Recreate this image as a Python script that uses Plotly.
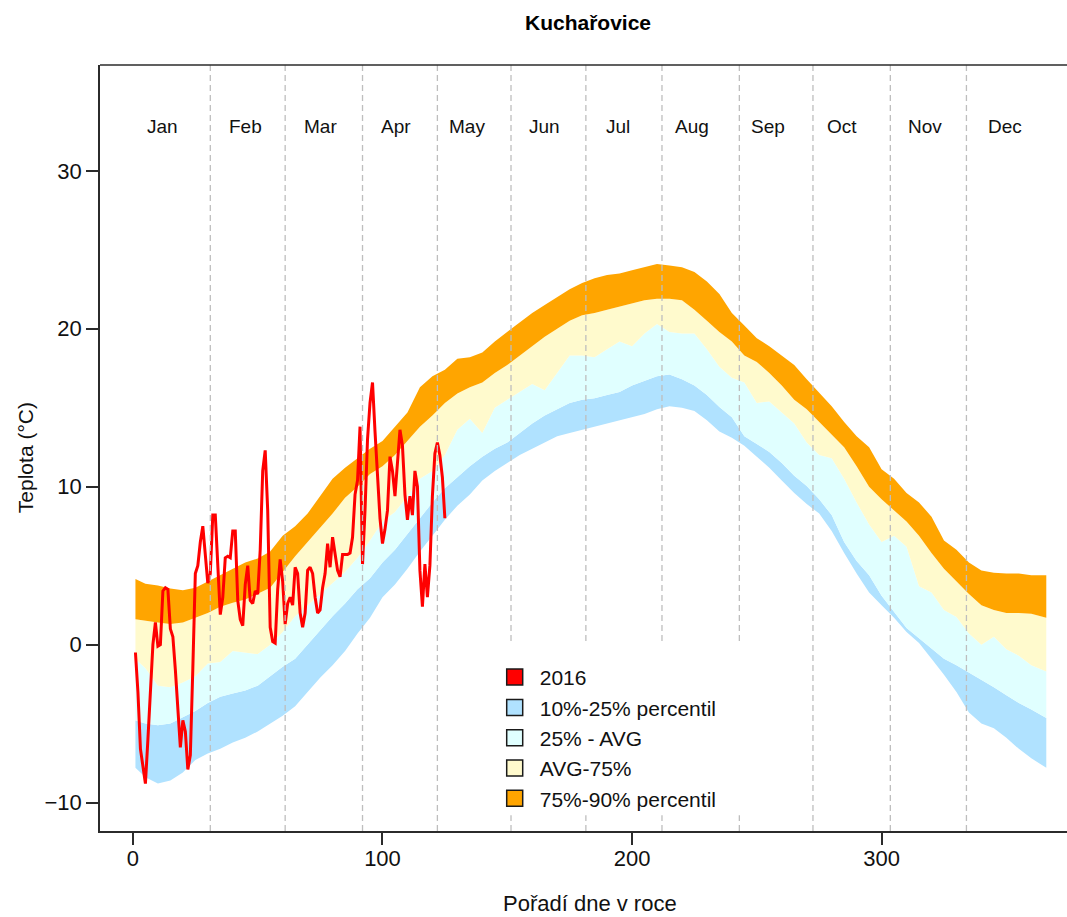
import plotly.graph_objects as go

# ---------------- data ----------------
band_days = [1, 5, 10, 15, 20, 25, 30, 35, 40, 45, 50, 55, 60, 65, 70, 75, 80, 85, 90, 95,
             100, 105, 110, 115, 120, 125, 130, 135, 140, 145, 150, 155, 160, 165, 170, 175,
             180, 185, 190, 195, 200, 205, 210, 215, 220, 225, 230, 235, 240, 245, 250, 255,
             260, 265, 270, 275, 280, 285, 290, 295, 300, 305, 310, 315, 320, 325, 330, 335,
             340, 345, 350, 355, 360, 366]

p10 = [-7.8, -8.4, -8.8, -8.6, -8.1, -7.3, -6.9, -6.6, -6.2, -5.9, -5.5, -5.0, -4.5, -3.9,
       -3.0, -2.1, -1.3, -0.4, 0.7, 1.7, 3.0, 3.8, 4.8, 5.9, 6.9, 7.9, 8.8, 9.5, 10.4, 11.0,
       11.5, 12.0, 12.4, 12.8, 13.2, 13.4, 13.6, 13.8, 14.0, 14.2, 14.4, 14.6, 14.9, 15.1,
       15.0, 14.8, 14.2, 13.5, 13.1, 12.6, 11.9, 11.2, 10.4, 9.6, 8.9, 8.3, 7.2, 5.8, 4.5,
       3.3, 2.5, 1.7, 0.8, 0.1, -0.9, -1.9, -3.0, -4.3, -5.0, -5.3, -5.9, -6.6, -7.2, -7.8]

p25 = [-4.8, -5.0, -5.1, -5.0, -4.6, -4.2, -3.7, -3.3, -3.1, -2.9, -2.6, -2.0, -1.4, -0.9,
       0.0, 0.9, 1.8, 2.6, 3.5, 4.2, 5.2, 6.0, 7.0, 8.0, 9.0, 9.9, 10.6, 11.3, 11.9, 12.4,
       12.8, 13.4, 14.0, 14.5, 14.9, 15.3, 15.5, 15.6, 15.8, 16.0, 16.4, 16.7, 17.0, 17.1,
       16.8, 16.4, 15.8, 15.05, 14.4, 13.2, 12.7, 12.2, 11.5, 10.7, 10.05, 9.2, 8.2, 6.5,
       5.3, 4.4, 3.1, 2.1, 1.05, 0.4, -0.25, -0.9, -1.3, -1.75, -2.2, -2.7, -3.2, -3.7,
       -4.1, -4.65]

avg = [-0.9, -1.5, -2.6, -2.7, -2.4, -2.0, -1.2, -1.1, -0.4, -0.5, -0.6, 0.0, 0.8, 1.8,
       2.5, 3.2, 3.9, 4.6, 5.5, 6.6, 7.8, 8.4, 9.4, 10.5, 11.0, 12.0, 13.6, 14.3, 13.4, 15.0,
       15.5, 16.0, 16.5, 16.1, 17.2, 18.3, 18.3, 18.2, 18.7, 19.2, 18.9, 19.7, 20.3, 19.8,
       19.7, 19.7, 18.7, 17.6, 16.9, 16.6, 15.3, 15.4, 14.7, 14.0, 12.8, 12.0, 11.8, 10.5,
       9.0, 7.6, 6.5, 6.9, 6.2, 3.7, 3.3, 2.2, 1.75, 0.7, 0.0, 0.5, -0.3, -0.7, -1.3, -1.7]

p75 = [1.6, 1.5, 1.4, 1.3, 1.4, 1.7, 2.0, 2.4, 2.65, 2.85, 3.25, 3.6, 4.6, 5.6, 6.5, 7.4,
       8.3, 9.3, 10.0, 10.8, 11.3, 12.0, 12.9, 13.8, 14.5, 15.3, 15.9, 16.3, 16.6, 17.2,
       17.7, 18.3, 18.9, 19.5, 20.0, 20.5, 20.85, 21.0, 21.2, 21.4, 21.6, 21.8, 21.9, 21.9,
       21.8, 21.2, 20.5, 19.8, 19.2, 18.3, 17.9, 17.2, 16.4, 15.5, 14.9, 14.1, 13.3, 12.5,
       11.3, 10.0, 9.2, 8.5, 7.8, 6.9, 5.8, 4.8, 4.0, 3.2, 2.5, 2.2, 2.0, 2.0, 1.95, 1.7]

p90 = [4.15, 3.85, 3.75, 3.55, 3.45, 3.6, 4.0, 4.4, 4.8, 5.2, 5.45, 5.9, 6.9, 7.5, 8.3,
       9.4, 10.5, 11.2, 11.8, 12.4, 12.9, 13.8, 14.7, 16.3, 17.0, 17.4, 18.1, 18.2, 18.5,
       19.2, 19.8, 20.4, 21.0, 21.5, 22.0, 22.5, 22.9, 23.2, 23.4, 23.5, 23.7, 23.9, 24.1,
       24.0, 23.9, 23.6, 23.0, 22.2, 21.0, 20.2, 19.4, 18.9, 18.3, 17.7, 16.8, 15.95, 15.1,
       14.1, 13.2, 12.5, 11.1, 10.5, 9.6, 9.0, 8.1, 6.6, 6.0, 5.2, 4.7, 4.55, 4.5, 4.5, 4.4,
       4.4]

t2016 = [-0.5, -3.0, -6.6, -7.8, -8.8, -6.0, -2.5, 0.0, 1.4, -0.1,
         0.0, 3.4, 3.6, 3.5, 1.0, 0.5, -1.6, -4.0, -6.5, -4.8,
         -5.5, -7.9, -7.0, -1.5, 4.5, 5.0, 6.5, 7.5, 5.5, 3.9,
         4.5, 8.2, 8.2, 4.7, 1.9, 3.0, 5.5, 5.6, 5.5, 7.2,
         7.2, 2.8, 1.6, 1.2, 3.8, 5.0, 2.8, 2.6, 3.4, 3.2,
         6.0, 11.0, 12.3, 8.5, 1.1, 0.2, 0.1, 3.5, 5.4, 4.0,
         1.3, 2.6, 3.0, 2.5, 4.9, 4.5, 2.0, 1.1, 2.0, 4.7,
         4.9, 4.5, 3.0, 2.0, 2.2, 3.6, 4.5, 6.4, 4.9, 6.8,
         5.6, 4.7, 4.3, 5.7, 5.7, 5.7, 5.8, 6.8, 9.5, 10.4,
         13.8, 5.1, 8.5, 13.0, 15.3, 16.6, 13.5, 10.6, 8.0, 6.4,
         7.3, 8.5, 11.9, 11.0, 9.4, 11.5, 13.6, 12.6, 9.5, 7.9,
         9.4, 8.2, 11.0, 10.0, 4.7, 2.4, 5.1, 3.0, 5.0, 9.4,
         12.1, 12.8, 12.0, 10.6, 8.0]
t2016_days = list(range(1, len(t2016) + 1))

month_names = ["Jan", "Feb", "Mar", "Apr", "May", "Jun", "Jul", "Aug", "Sep", "Oct", "Nov", "Dec"]
month_label_days = [12, 45, 75, 105.5, 134, 165, 194.5, 224, 254.5, 284, 317.5, 349.5]
month_start_days = [31, 61, 92, 122, 151.5, 181.5, 212, 243, 272.5, 303.5, 334]

legend_names = ["2016", "10%-25% percentil", "25% - AVG", "AVG-75%", "75%-90% percentil"]
x_ticks = [0, 100, 200, 300]
y_ticks = [-10, 0, 10, 20, 30]

# ---------------- style ----------------
FONT = "Liberation Sans, Arial, sans-serif"
C_RED = "#FF0000"
C_B = "#B0E2FF"
C_C = "#E0FFFF"
C_Y = "#FFFACD"
C_O = "#FFA500"
AX = "#2b2b2b"

fig = go.Figure()

bands = [(p10, None, None), (p25, "tonexty", C_B), (avg, "tonexty", C_C),
         (p75, "tonexty", C_Y), (p90, "tonexty", C_O)]
for vals, fill, fc in bands:
    kw = dict(x=band_days, y=vals, mode="lines", line=dict(width=0),
              showlegend=False, hoverinfo="skip")
    if fill:
        kw.update(fill=fill, fillcolor=fc)
    fig.add_trace(go.Scatter(**kw))

fig.add_trace(go.Scatter(x=t2016_days, y=t2016, mode="lines",
                         line=dict(color=C_RED, width=3), showlegend=False,
                         hoverinfo="skip"))

for name, col in zip(legend_names, [C_RED, C_B, C_C, C_Y, C_O]):
    fig.add_trace(go.Scatter(x=[None], y=[None], mode="markers", name=name,
                             marker=dict(symbol="square", size=17, color=col,
                                         line=dict(color="#1a1a1a", width=1.5))))

shapes = []
for d in month_start_days:
    shapes.append(dict(type="line", xref="x", yref="paper", x0=d, x1=d, y0=0, y1=1,
                       line=dict(color="#BEBEBE", width=1.3, dash="6px,4px"), layer="above"))
# white legend background (covers the dashed lines as in the original)
shapes.append(dict(type="rect", xref="x", yref="y", x0=145, x1=246, y0=-10.8, y1=0.15,
                   fillcolor="white", line=dict(width=0), layer="above"))
# top border of the plot box
shapes.append(dict(type="line", xref="paper", yref="paper", x0=0, x1=1, y0=1, y1=1,
                   line=dict(color=AX, width=1.5)))

annotations = []
for nm, d in zip(month_names, month_label_days):
    annotations.append(dict(x=d, y=32.8, xref="x", yref="y", text=nm, showarrow=False,
                            font=dict(family=FONT, size=19, color="#111")))
annotations.append(dict(x=182.4, y=1.056, xref="x", yref="paper", text="<b>Kuchařovice</b>",
                        showarrow=False, font=dict(family=FONT, size=21, color="#000"),
                        yanchor="middle"))
annotations.append(dict(x=183.2, y=-0.094, xref="x", yref="paper", text="Pořadí dne v roce",
                        showarrow=False, font=dict(family=FONT, size=22, color="#111"),
                        yanchor="middle"))
annotations.append(dict(x=-0.0776, y=0.488, xref="paper", yref="paper", text="Teplota (°C)",
                        textangle=-90, showarrow=False,
                        font=dict(family=FONT, size=21, color="#111"),
                        xanchor="center", yanchor="middle"))

fig.update_layout(
    width=1067, height=917,
    margin=dict(l=100, r=0, t=65, b=86, autoexpand=False),
    paper_bgcolor="white", plot_bgcolor="white",
    font=dict(family=FONT, color="#111"),
    shapes=shapes, annotations=annotations,
    legend=dict(x=0.403, y=0.2272, xanchor="left", yanchor="top", traceorder="normal",
                bgcolor="rgba(0,0,0,0)", font=dict(family=FONT, size=21, color="#111"),
                tracegroupgap=0, itemwidth=40),
    xaxis=dict(range=[-13.2, 374.3], tickvals=x_ticks, showgrid=False, zeroline=False,
               showline=True, linecolor=AX, linewidth=1.5, ticks="outside", ticklen=12,
               tickwidth=1.5, tickcolor=AX, tickfont=dict(family=FONT, size=22, color="#111"),
               ticklabelstandoff=-5),
    yaxis=dict(range=[-11.8, 36.7], tickvals=y_ticks, showgrid=False, zeroline=False,
               showline=True, linecolor=AX, linewidth=1.5, ticks="outside", ticklen=12,
               tickwidth=1.5, tickcolor=AX, tickfont=dict(family=FONT, size=22, color="#111"),
               ticklabelstandoff=0),
)

fig.write_html("out.html")
